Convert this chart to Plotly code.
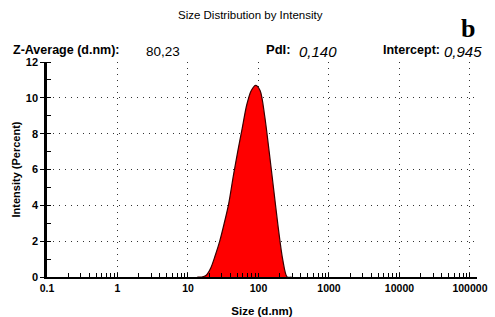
import plotly.graph_objects as go

# Size bins (d.nm) and intensity (%)
size_nm = [13.54, 15.69, 18.17, 21.04, 24.36, 28.21, 32.67, 37.84, 43.82, 50.75,
           58.77, 68.06, 78.82, 91.28, 105.7, 122.4, 141.8, 164.2, 190.1, 220.2,
           255.0, 295.3]
intensity = [0.0, 0.0, 0.1, 0.5, 1.2, 2.0, 3.0, 4.1, 5.6, 7.0,
             8.3, 9.6, 10.4, 10.7, 10.4, 9.0, 7.0, 4.9, 2.8, 1.0,
             0.0, 0.0]

y_tick_vals = [0, 2, 4, 6, 8, 10, 12]

W, H = 495, 317
L, R, T, B = 47, 18, 62, 40

SANS = "Liberation Sans"
SERIF = "Liberation Serif"

fig = go.Figure()
fig.add_trace(go.Scatter(
    x=size_nm, y=intensity, mode="lines",
    line=dict(color="#3a0000", width=1.2, shape="spline", smoothing=0.8),
    fill="tozeroy", fillcolor="#ff0000", hoverinfo="skip", showlegend=False))

fig.update_layout(
    width=W, height=H,
    margin=dict(l=L, r=R, t=T, b=B, autoexpand=False),
    paper_bgcolor="white", plot_bgcolor="white",
    font=dict(family=SANS, size=10.5, color="black"),
    xaxis=dict(type="log", range=[-1, 5.1], tickmode="linear", tick0=0, dtick=1,
               tickformat="~g", automargin=False,
               showline=True, linecolor="black", linewidth=2,
               ticks="inside", ticklen=4, tickcolor="black",
               showgrid=True, gridcolor="#333", griddash="1px,5px", gridwidth=1.2,
               zeroline=False, tickfont=dict(family=SANS, size=10.5, color="black", weight="bold"),
               title=dict(text="Size (d.nm)", font=dict(size=11.5, family=SANS, weight="bold"), standoff=14),
               minor=dict(dtick="D1", ticks="inside", ticklen=4, tickcolor="black", showgrid=False)),
    yaxis=dict(range=[0, 12], tickvals=y_tick_vals, automargin=False,
               showline=True, linecolor="black", linewidth=2.5,
               ticks="outside", ticklen=4, tickcolor="black",
               showgrid=True, gridcolor="#333", griddash="1px,5px", gridwidth=1.2,
               zeroline=False, tickfont=dict(family=SANS, size=11, color="black", weight="bold"),
               title=dict(text="Intensity (Percent)", font=dict(size=11, family=SANS, weight="bold"), standoff=3),
               minor=dict(dtick=1, ticks="inside", ticklen=4, tickcolor="black", showgrid=False)),
)

def ann(text, px, py, size, family, xanchor="left", bold=False, italic=False):
    fig.add_annotation(text=text, xref="paper", yref="paper",
                       x=(px - L) / (W - L - R), y=(H - B - py) / (H - T - B),
                       xanchor=xanchor, yanchor="middle", showarrow=False,
                       xshift=-2 if xanchor == "left" else 0,
                       font=dict(size=size, family=family, color="black",
                                 weight="bold" if bold else "normal",
                                 style="italic" if italic else "normal"))

ann("Size Distribution by Intensity", 250, 15, 11.5, SANS, xanchor="center")
ann("b", 468, 28, 26, SERIF, xanchor="center", bold=True)
ann("Z-Average (d.nm):", 13, 50, 12.5, SANS, bold=True)
ann("80,23", 146, 51, 13.5, SANS)
ann("PdI:", 266, 50, 13, SANS, bold=True)
ann("0,140", 299, 51, 15, SANS, italic=True)
ann("Intercept:", 383, 50, 12.5, SANS, bold=True)
ann("0,945", 444, 51, 15, SANS, italic=True)

fig.write_html("out.html", config={"displayModeBar": False},
               post_script="document.body.style.margin='0';document.body.style.overflow='hidden';")
